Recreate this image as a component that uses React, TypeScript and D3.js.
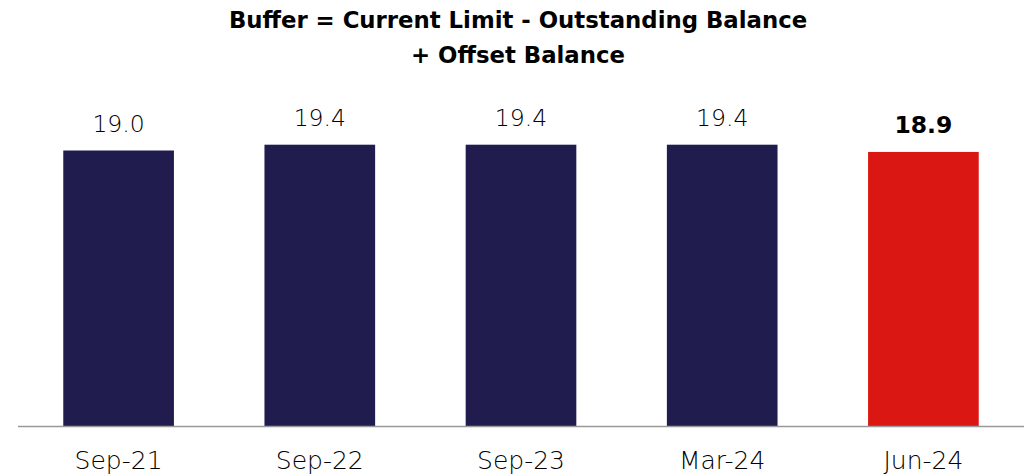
import React from "react";
import * as d3 from "d3";

const categories = ["Sep-21", "Sep-22", "Sep-23", "Mar-24", "Jun-24"];
const values = [19.0, 19.4, 19.4, 19.4, 18.9];
const highlight = [false, false, false, false, true];
const titleLines = ["Buffer = Current Limit - Outstanding Balance", "+ Offset Balance"];

const W = 1029;
const H = 475;
const FONT = "'DejaVu Sans', sans-serif";

export default function App() {
  const x = d3
    .scaleBand<string>()
    .domain(categories)
    .range([18, 1024])
    .paddingInner(0.45)
    .paddingOuter(0.225);
  const y = d3.scaleLinear().domain([0, 20]).range([426, 136]);

  return (
    <svg
      width={W}
      height={H}
      style={{ position: "absolute", left: 0, top: 0, background: "#fff" }}
    >
      {titleLines.map((t, i) => (
        <text
          key={i}
          x={518}
          y={28 + i * 35}
          textAnchor="middle"
          fontFamily={FONT}
          fontWeight={700}
          fontSize={22.8}
          fill="#000"
        >
          {t}
        </text>
      ))}
      {categories.map((c, i) => (
        <g key={c}>
          <rect
            x={x(c)}
            y={y(values[i])}
            width={x.bandwidth()}
            height={y(0) - y(values[i])}
            fill={highlight[i] ? "#DA1712" : "#201C4E"}
          />
          <text
            x={(x(c) as number) + x.bandwidth() / 2}
            y={y(values[i]) - 19}
            textAnchor="middle"
            fontFamily={FONT}
            fontWeight={highlight[i] ? 700 : 200}
            fontSize={23.5}
            fill="#000"
          >
            {values[i].toFixed(1)}
          </text>
          <text
            x={(x(c) as number) + x.bandwidth() / 2}
            y={469}
            textAnchor="middle"
            fontFamily={FONT}
            fontWeight={200}
            fontSize={25}
            fill="#000"
          >
            {c}
          </text>
        </g>
      ))}
      <line x1={18} x2={1024} y1={426.5} y2={426.5} stroke="#999" strokeWidth={1.5} />
    </svg>
  );
}
